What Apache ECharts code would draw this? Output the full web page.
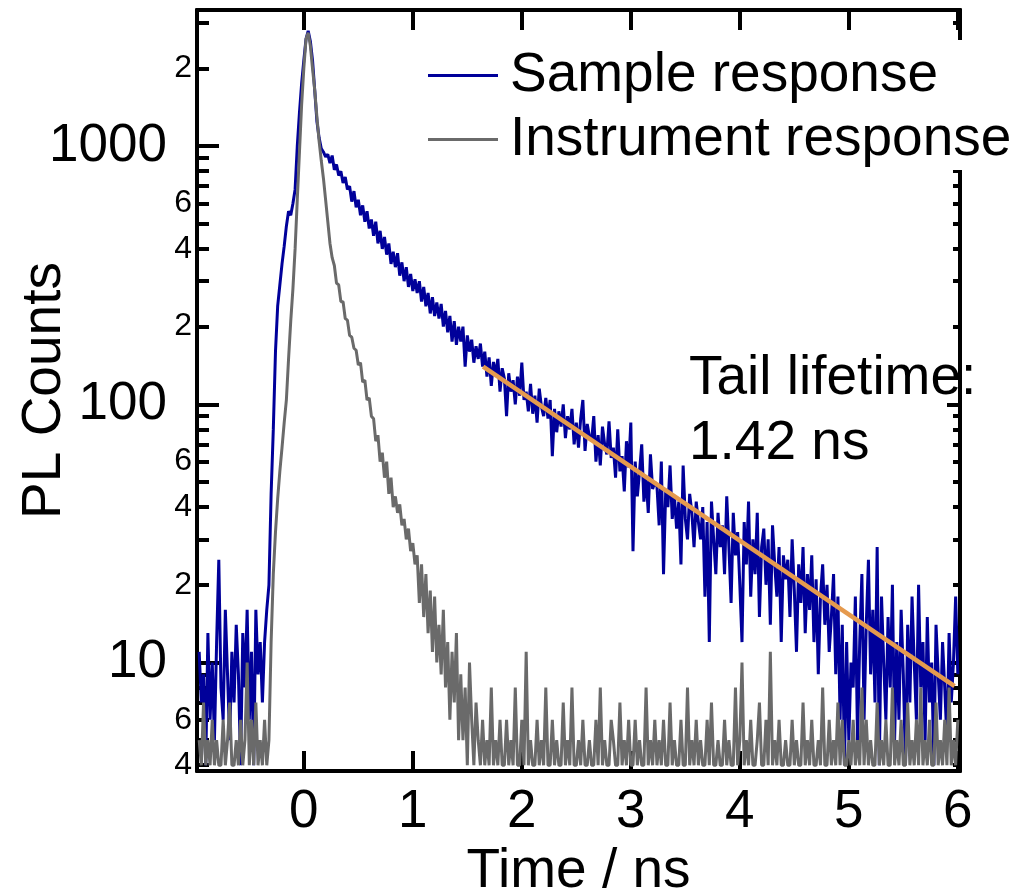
<!DOCTYPE html>
<html lang="en">
<head>
    <meta charset="utf-8">
    <title>PL decay</title>
    <script src="https://cdn.jsdelivr.net/npm/echarts@6/dist/echarts.min.js"></script>
    <style>
        html, body { margin: 0; padding: 0; background: #fff; }
        #decayChart { width: 1021px; height: 891px; }
    </style>
</head>
<body>
<div id="decayChart"></div>
<script type="text/javascript">

    // time grid of the histogram (ns)
    const timeStart = -0.96;
    const timeStep = 0.02;

    // sample response counts, one row = 0.2 ns
    const sampleCounts = [
        11, 7, 9, 4, 13, 6, 10, 5, 12, 25,
        8, 6, 16, 9, 5, 11, 7, 14, 9, 4,
        13, 8, 16, 6, 11, 4, 16, 9, 12, 7,
        12, 16, 20, 45, 80, 160, 240, 290, 350, 410,
        490, 560, 540, 600, 680, 1000, 1350, 1750, 2150, 2600,
        2800, 2550, 2150, 1650, 1250, 1080, 980, 950, 910, 930,
        860, 920, 810, 850, 770, 800, 720, 760, 680, 700,
        610, 670, 580, 620, 540, 590, 510, 560, 480, 520,
        450, 510, 420, 470, 400, 445, 380, 420, 350, 390,
        340, 385, 315, 355, 300, 340, 285, 320, 275, 305,
        270, 300, 250, 285, 240, 270, 225, 260, 220, 248,
        215, 245, 200, 230, 190, 220, 175, 210, 170, 200,
        175, 200, 140, 185, 160, 178, 145, 168, 150, 172,
        140, 160, 128, 152, 118, 146, 130, 150, 112, 138,
        126, 90, 132, 112, 124, 100, 128, 108, 145, 104,
        112, 94, 120, 92, 108, 85, 115, 98, 90, 106,
        88, 104, 63, 96, 78, 94, 82, 100, 74, 90,
        80, 96, 70, 85, 68, 88, 104, 66, 84, 75,
        72, 90, 60, 76, 58, 82, 70, 64, 86, 62,
        68, 52, 80, 55, 63, 46, 72, 57, 85, 27,
        60, 44, 55, 70, 42, 52, 38, 64, 47, 50,
        48, 34, 60, 22, 46, 40, 58, 36, 44, 33,
        42, 24, 58, 36, 30, 45, 38, 28, 42, 35,
        30, 40, 18, 35, 12, 42, 30, 22, 38, 28,
        34, 22, 44, 28, 17, 38, 26, 32, 20, 12,
        35, 24, 42, 18, 30, 22, 38, 15, 28, 33,
        20, 30, 14, 34, 24, 18, 28, 12, 26, 21,
        25, 15, 30, 19, 11, 24, 17, 28, 13, 22,
        16, 26, 12, 21, 9, 18, 24, 14, 20, 11,
        15, 22, 9, 18, 6, 14, 4, 12, 5, 10,
        8, 18, 5, 12, 22, 6, 14, 25, 9, 16,
        7, 28, 4, 18, 10, 6, 15, 8, 20, 5,
        12, 6, 16, 9, 4, 14, 7, 18, 10, 6,
        20, 8, 12, 5, 15, 7, 10, 4, 14, 9,
        6, 12, 8, 5, 13, 7, 10, 18, 9
    ];

    // instrument response counts, same grid
    const instrumentCounts = [
        5, 4, 7, 4, 5, 4, 6, 4, 5, 4,
        4, 6, 4, 5, 7, 4, 4, 5, 4, 6,
        4, 5, 10, 4, 6, 4, 7, 4, 5, 4,
        6, 4, 5, 12, 22, 32, 43, 55, 68, 85,
        104, 150, 210, 280, 400, 620, 950, 1450, 2000, 2600,
        2750, 2450, 2000, 1650, 1300, 1050, 880, 750, 620, 510,
        420, 370, 345, 295, 290, 250, 250, 215, 212, 185,
        182, 165, 162, 142, 145, 122, 124, 104, 106, 90,
        88, 72, 76, 60, 65, 52, 60, 45, 52, 40,
        44, 38, 41, 34, 36, 30, 33, 27, 29, 24,
        26, 17, 24, 15, 22, 13, 19, 11, 18, 10,
        14, 9, 16, 8, 12, 6, 11, 7, 13, 5,
        9, 5, 8, 4, 10, 6, 4, 7, 5, 4,
        6, 4, 5, 4, 8, 4, 5, 4, 6, 4,
        4, 6, 4, 5, 4, 8, 4, 4, 6, 4,
        11, 4, 5, 4, 4, 6, 4, 5, 4, 8,
        4, 4, 6, 4, 5, 4, 4, 7, 4, 5,
        4, 8, 4, 4, 5, 4, 6, 4, 4, 5,
        4, 4, 6, 4, 8, 4, 5, 4, 4, 6,
        5, 4, 4, 7, 4, 5, 4, 6, 4, 4,
        6, 4, 5, 4, 4, 8, 4, 5, 4, 6,
        4, 5, 4, 6, 4, 4, 7, 4, 5, 4,
        4, 6, 4, 4, 8, 4, 5, 4, 6, 4,
        5, 4, 4, 6, 4, 7, 4, 4, 5, 4,
        4, 6, 4, 5, 4, 4, 8, 4, 5, 10,
        4, 5, 4, 6, 4, 4, 5, 7, 4, 4,
        6, 4, 11, 4, 5, 4, 6, 4, 4, 5,
        4, 4, 6, 4, 5, 4, 4, 7, 4, 5,
        4, 6, 4, 4, 5, 4, 8, 4, 4, 6,
        4, 5, 4, 7, 4, 6, 4, 4, 5, 4,
        6, 4, 5, 4, 8, 4, 6, 4, 5, 4,
        4, 7, 4, 5, 4, 6, 4, 4, 8, 4,
        5, 4, 6, 4, 4, 7, 4, 5, 4, 6,
        4, 8, 4, 5, 4, 6, 4, 4, 7, 4,
        5, 4, 6, 4, 8, 4, 5, 4, 6
    ];

    // tail fit end points
    const fitTimes = [1.645, 5.97];
    const fitCounts = [140, 8.1];

    // ticks and labels
    const timeTicks = [0, 1, 2, 3, 4, 5, 6];
    const countMajorTicks = [10, 100, 1000];
    const countMinorTicks = [4, 5, 6, 7, 8, 9, 20, 30, 40, 50, 60, 70, 80, 90,
        200, 300, 400, 500, 600, 700, 800, 900, 2000, 3000];
    const countMinorLabels = [4, 6, 20, 40, 60, 200, 400, 600, 2000];

    const fontFamily = '"Liberation Sans", Arial, Helvetica, sans-serif';

    function toPairs(counts) {
        return counts.map((c, i) => [+(timeStart + i * timeStep).toFixed(2), c]);
    }

    function leadingDigit(v) {
        const p = Math.pow(10, Math.floor(Math.log10(v) + 1e-9));
        return String(Math.round(v / p));
    }

    function plainNumber(v) {
        return String(Math.round(v));
    }

    const xBase = {
        type: 'value',
        min: -0.98,
        max: 6.02,
        splitLine: {show: false},
        axisLine: {show: true, onZero: false, lineStyle: {color: '#000', width: 4}}
    };

    const yBase = {
        type: 'log',
        logBase: 10,
        min: 3.8,
        max: 3370,
        splitLine: {show: false},
        axisLine: {show: true, onZero: false, lineStyle: {color: '#000', width: 4}}
    };

    let decayChart = echarts.init(document.getElementById('decayChart'), null, {renderer: 'canvas'});

    let decayOption = {
        animation: false,
        backgroundColor: '#fff',
        grid: {left: 197, top: 10, width: 763, height: 761, containLabel: false, outerBoundsMode: 'none'},
        legend: {
            orient: 'vertical',
            left: 420,
            top: 40,
            padding: [8, 30, 3, 8],
            itemWidth: 70,
            itemHeight: 3,
            itemGap: 9,
            icon: 'rect',
            backgroundColor: '#fff',
            data: ['Sample response', 'Instrument response'],
            textStyle: {fontSize: 55, color: '#000', fontFamily: fontFamily, padding: [0, 0, 0, 7]}
        },
        xAxis: [
            Object.assign({}, xBase, {
                position: 'bottom',
                name: 'Time / ns',
                nameLocation: 'middle',
                nameGap: 73,
                nameMoveOverlap: false,
                nameTextStyle: {fontSize: 55, color: '#000', fontFamily: fontFamily},
                axisTick: {inside: true, length: 20, customValues: timeTicks, lineStyle: {color: '#000', width: 4}},
                axisLabel: {customValues: timeTicks, fontSize: 53, color: '#000', fontFamily: fontFamily, margin: 15}
            }),
            Object.assign({}, xBase, {
                position: 'top',
                axisTick: {inside: true, length: 20, customValues: timeTicks, lineStyle: {color: '#000', width: 4}},
                axisLabel: {show: false}
            })
        ],
        yAxis: [
            Object.assign({}, yBase, {
                position: 'left',
                name: 'PL Counts',
                nameLocation: 'middle',
                nameRotate: 90,
                nameGap: 125,
                nameMoveOverlap: false,
                nameTextStyle: {fontSize: 55, color: '#000', fontFamily: fontFamily},
                axisTick: {inside: true, length: 22, customValues: countMajorTicks, lineStyle: {color: '#000', width: 4}},
                axisLabel: {
                    customValues: countMajorTicks, fontSize: 53, color: '#000', fontFamily: fontFamily, margin: 30,
                    formatter: plainNumber
                }
            }),
            Object.assign({}, yBase, {
                position: 'left',
                axisTick: {inside: true, length: 12, customValues: countMinorTicks, lineStyle: {color: '#000', width: 4}},
                axisLabel: {
                    customValues: countMinorLabels, fontSize: 32, color: '#000', fontFamily: fontFamily, margin: 5,
                    formatter: leadingDigit
                }
            }),
            Object.assign({}, yBase, {
                position: 'right',
                axisTick: {inside: true, length: 13, customValues: countMajorTicks, lineStyle: {color: '#000', width: 4}},
                axisLabel: {show: false}
            }),
            Object.assign({}, yBase, {
                position: 'right',
                axisTick: {inside: true, length: 7, customValues: countMinorTicks, lineStyle: {color: '#000', width: 4}},
                axisLabel: {show: false}
            })
        ],
        series: [
            {
                name: 'Sample response',
                type: 'line',
                showSymbol: false,
                symbol: 'none',
                color: '#00009a',
                lineStyle: {width: 3},
                z: 2,
                data: toPairs(sampleCounts)
            },
            {
                name: 'Instrument response',
                type: 'line',
                showSymbol: false,
                symbol: 'none',
                color: '#6a6a6a',
                lineStyle: {width: 3},
                z: 3,
                data: toPairs(instrumentCounts)
            },
            {
                name: 'Tail fit',
                type: 'line',
                showSymbol: false,
                symbol: 'none',
                color: '#e59a4e',
                lineStyle: {width: 4.5},
                z: 4,
                data: fitTimes.map((t, i) => [t, fitCounts[i]])
            }
        ],
        graphic: [
            {
                type: 'group',
                z: 10,
                children: [
                    {type: 'rect', shape: {x: 686, y: 347, width: 292, height: 130}, style: {fill: '#fff'}},
                    {
                        type: 'text',
                        style: {x: 689, y: 379, text: 'Tail lifetime:', font: '55px ' + fontFamily, fill: '#000', verticalAlign: 'middle'}
                    },
                    {
                        type: 'text',
                        style: {x: 689, y: 444, text: '1.42 ns', font: '55px ' + fontFamily, fill: '#000', verticalAlign: 'middle'}
                    }
                ]
            }
        ]
    };

    decayChart.setOption(decayOption);
</script>
</body>
</html>
